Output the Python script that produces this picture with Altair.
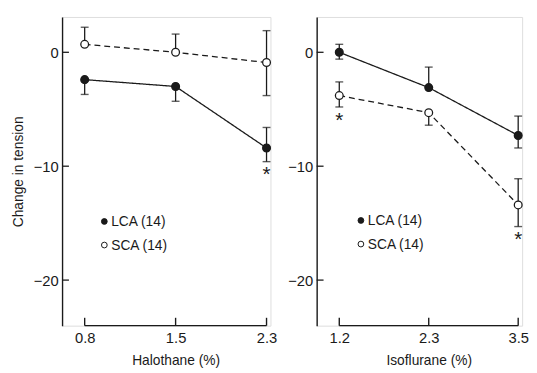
import altair as alt
import pandas as pd

FONT = "Liberation Sans"
INK = "#1a1a1a"

series_names = ["LCA (14)", "SCA (14)"]
y_ticks = [-20, -10, 0]

# Halothane panel
halo_x = ["0.8", "1.5", "2.3"]
halo_lca = [-2.4, -3.0, -8.4]
halo_lca_lo = [-3.7, -4.3, -9.6]
halo_lca_hi = [-2.4, -3.0, -6.6]
halo_sca = [0.7, 0.0, -0.9]
halo_sca_lo = [0.7, 0.0, -3.8]
halo_sca_hi = [2.2, 1.6, 1.9]
halo_lca_star = [False, False, True]
halo_sca_star = [False, False, False]

# Isoflurane panel
iso_x = ["1.2", "2.3", "3.5"]
iso_lca = [0.0, -3.1, -7.3]
iso_lca_lo = [-0.6, -3.1, -8.4]
iso_lca_hi = [0.7, -1.3, -5.6]
iso_sca = [-3.8, -5.3, -13.4]
iso_sca_lo = [-4.8, -6.4, -15.3]
iso_sca_hi = [-2.6, -5.3, -11.1]
iso_lca_star = [False, False, False]
iso_sca_star = [True, False, True]

H = 314


def build_panel(xs, groups, xtitle, ytitle, width, xrange, leg_x, leg_y):
    rows = []
    caps = []
    for name, mean, lo, hi, star in groups:
        for i, x in enumerate(xs):
            rows.append(dict(x=x, series=name, mean=mean[i], lo=lo[i], hi=hi[i], star=star[i]))
            if lo[i] < mean[i]:
                caps.append(dict(x=x, series=name, v=lo[i]))
            if hi[i] > mean[i]:
                caps.append(dict(x=x, series=name, v=hi[i]))
    df = pd.DataFrame(rows)
    cap_df = pd.DataFrame(caps)
    tick_df = pd.DataFrame({"v": y_ticks})
    xcat_df = pd.DataFrame({"x": xs})
    xdom_df = pd.DataFrame({"a": [xs[0]], "b": [xs[-1]]})
    leg_df = pd.DataFrame({"series": series_names})

    xscale = alt.Scale(type="point", domain=xs, range=xrange, padding=0)
    yscale = alt.Scale(domain=[-24, 3.1], nice=False, zero=False)
    xaxis = alt.Axis(title=xtitle, labelAngle=0, domain=False, ticks=False, grid=False,
                     labelPadding=5, labelFont=FONT, labelFontSize=15, labelColor=INK,
                     titleFont=FONT, titleFontSize=14, titleFontWeight="normal",
                     titleColor=INK, titlePadding=9)
    yaxis = alt.Axis(title=ytitle, values=y_ticks, ticks=False, grid=False, domain=True,
                     domainColor=INK, domainWidth=1.4, labelPadding=4,
                     labelFont=FONT, labelFontSize=15, labelColor=INK,
                     titleFont=FONT, titleFontSize=14, titleFontWeight="normal",
                     titleColor=INK, titlePadding=8)

    X = lambda f: alt.X(f, type="nominal", scale=xscale, axis=xaxis)
    Y = lambda f: alt.Y(f, type="quantitative", scale=yscale, axis=yaxis)

    dash = alt.StrokeDash("series:N", scale=alt.Scale(domain=series_names, range=[[1, 0], [6, 4]]),
                          legend=None)
    fill = alt.Fill("series:N", scale=alt.Scale(domain=series_names, range=[INK, "white"]),
                    legend=None)

    base = alt.Chart(df)
    lines = base.mark_line(color=INK, strokeWidth=1.3).encode(x=X("x"), y=Y("mean"), strokeDash=dash,
                                                               detail="series:N")
    bars = base.mark_rule(color=INK, strokeWidth=1.3).encode(x=X("x"), y=Y("lo"), y2="hi")
    capm = alt.Chart(cap_df).mark_tick(color=INK, size=8, thickness=1.4).encode(x=X("x"), y=Y("v"))
    pts = base.mark_point(shape="circle", size=62, stroke=INK, strokeWidth=1.3, opacity=1,
                          filled=True).encode(x=X("x"), y=Y("mean"), fill=fill)
    stars = base.transform_filter("datum.star").mark_text(
        text="*", font=FONT, fontSize=21, color=INK, baseline="top", dy=3).encode(
        x=X("x"), y=Y("lo"))
    yt = alt.Chart(tick_df).mark_rule(color=INK, strokeWidth=1.3).encode(
        x=alt.value(0), x2=alt.value(7), y=Y("v"))
    xd = alt.Chart(xdom_df).mark_rule(color=INK, strokeWidth=1.4).encode(
        x=X("a"), x2="b", y=alt.value(H))
    xt = alt.Chart(xcat_df).mark_rule(color=INK, strokeWidth=1.4).encode(
        x=X("x"), y=alt.value(H - 8), y2=alt.value(H))

    main = alt.layer(yt, xd, xt, lines, bars, capm, pts, stars)

    # legend drawn as marks, rows placed by a small point scale
    ly = alt.Y("series:N", scale=alt.Scale(type="point", domain=series_names,
                                           range=[leg_y, leg_y + 24], padding=0),
               axis=None)
    leg_pts = alt.Chart(leg_df).mark_point(shape="circle", size=34, stroke=INK, strokeWidth=1,
                                           filled=True, opacity=1).encode(
        x=alt.value(leg_x), y=ly, fill=fill)
    leg_txt = alt.Chart(leg_df).mark_text(font=FONT, fontSize=14, color=INK, align="left",
                                          baseline="middle", dy=1).encode(
        x=alt.value(leg_x + 7), y=ly, text="series:N")
    legend = alt.layer(leg_pts, leg_txt)

    return alt.layer(main, legend).resolve_scale(y="independent").properties(width=width, height=H)


left = build_panel(halo_x,
                   [("LCA (14)", halo_lca, halo_lca_lo, halo_lca_hi, halo_lca_star),
                    ("SCA (14)", halo_sca, halo_sca_lo, halo_sca_hi, halo_sca_star)],
                   "Halothane (%)", "Change in tension", 212, [23, 208], 43, 208)
right = build_panel(iso_x,
                    [("LCA (14)", iso_lca, iso_lca_lo, iso_lca_hi, iso_lca_star),
                     ("SCA (14)", iso_sca, iso_sca_lo, iso_sca_hi, iso_sca_star)],
                    "Isoflurane (%)", "", 209, [23, 205], 45, 207)

chart = alt.hconcat(left, right, spacing=10).resolve_scale(
    fill="independent", strokeDash="independent", x="independent", y="independent"
).properties(
    padding={"left": 3, "top": 5, "right": 0, "bottom": 0}
).configure_view(strokeWidth=0).configure(background="white")

chart.save("out.html", embed_options={"renderer": "svg", "actions": False})
